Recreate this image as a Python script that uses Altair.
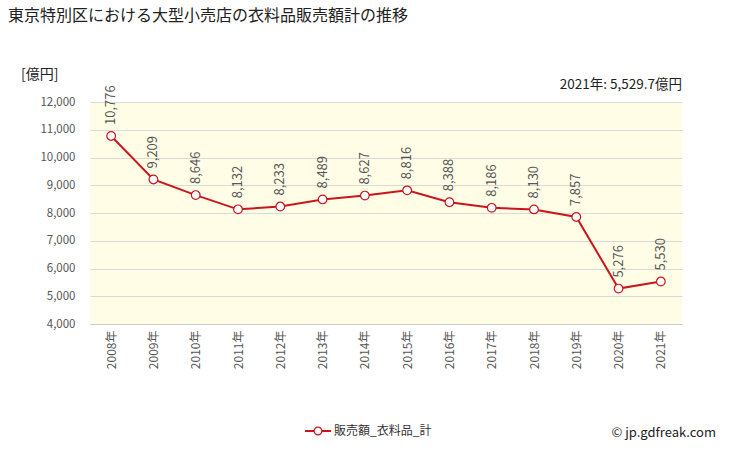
import altair as alt
import pandas as pd

years = ["2008年", "2009年", "2010年", "2011年", "2012年", "2013年", "2014年",
         "2015年", "2016年", "2017年", "2018年", "2019年", "2020年", "2021年"]
values = [10776, 9209, 8646, 8132, 8233, 8489, 8627, 8816, 8388, 8186, 8130, 7857, 5276, 5529.7]
series_name = "販売額_衣料品_計"

df = pd.DataFrame({"year": years, "value": values})
df["label"] = [f"{round(v):,}" for v in values]

FONT = "Noto Sans CJK JP"
RED = "#C8161D"
W, H = 592, 222
L, T = 90, 102

x = alt.X("year:N", sort=years, title=None,
          scale=alt.Scale(type="point", padding=0.5),
          axis=alt.Axis(labelAngle=-90, labelFont=FONT, labelFontSize=12, labelColor="#555",
                        ticks=False, domain=True, domainColor="#ccc", labelPadding=6,
                        labelAlign="right", labelBaseline="middle"))
y = alt.Y("value:Q", title=None,
          scale=alt.Scale(domain=[4000, 12000], nice=False),
          axis=alt.Axis(values=list(range(4000, 12001, 1000)), format=",d",
                        labelFont=FONT, labelFontSize=11.5, labelColor="#555",
                        ticks=False, domain=False, gridColor="#d9d9d9", labelPadding=15))

base = alt.Chart(df)
line = base.mark_line(color=RED, strokeWidth=2).encode(x=x, y=y)
pts = base.mark_point(shape="circle", filled=True, fill="white", stroke=RED,
                      strokeWidth=1.2, size=75, opacity=1).encode(x=x, y=y)
labels = base.mark_text(angle=270, align="left", baseline="middle", dx=11,
                        font=FONT, fontSize=13, color="#555").encode(x=x, y=y, text="label:N")

def txt(t, px, py, size=12, align="left", color="#222"):
    return alt.Chart(pd.DataFrame({"t": [t]})).mark_text(
        align=align, baseline="middle", font=FONT, fontSize=size, color=color
    ).encode(x=alt.value(px - L), y=alt.value(py - T), text="t:N")

title = txt("東京特別区における大型小売店の衣料品販売額計の推移", 8, 16, size=16, color="#222")
unit = txt("[億円]", 21, 75, size=14)
latest = txt("2021年: 5,529.7億円", 682, 85, size=13.5, align="right")
credit = txt("© jp.gdfreak.com", 716, 433, size=13, align="right")
leg_text = txt(series_name, 334, 431, size=12, color="#333")

leg_line = alt.Chart(pd.DataFrame({"a": [0]})).mark_rule(color=RED, strokeWidth=2).encode(
    x=alt.value(305 - L), x2=alt.value(331 - L), y=alt.value(431 - T))
leg_pt = alt.Chart(pd.DataFrame({"a": [0]})).mark_point(
    shape="circle", filled=True, fill="white", stroke=RED, strokeWidth=1.2, size=60, opacity=1
).encode(x=alt.value(318 - L), y=alt.value(431 - T))

chart = alt.layer(line, pts, labels, title, unit, latest, credit, leg_line, leg_pt, leg_text).properties(
    width=W, height=H,
    autosize=alt.AutoSizeParams(type="none"),
    padding={"left": L, "top": T, "right": 729 - L - W, "bottom": 450 - T - H},
    background="white",
).configure_view(fill="#FFFDE6", stroke=None)

chart.save("out.html", embed_options={"renderer": "svg", "actions": False})
